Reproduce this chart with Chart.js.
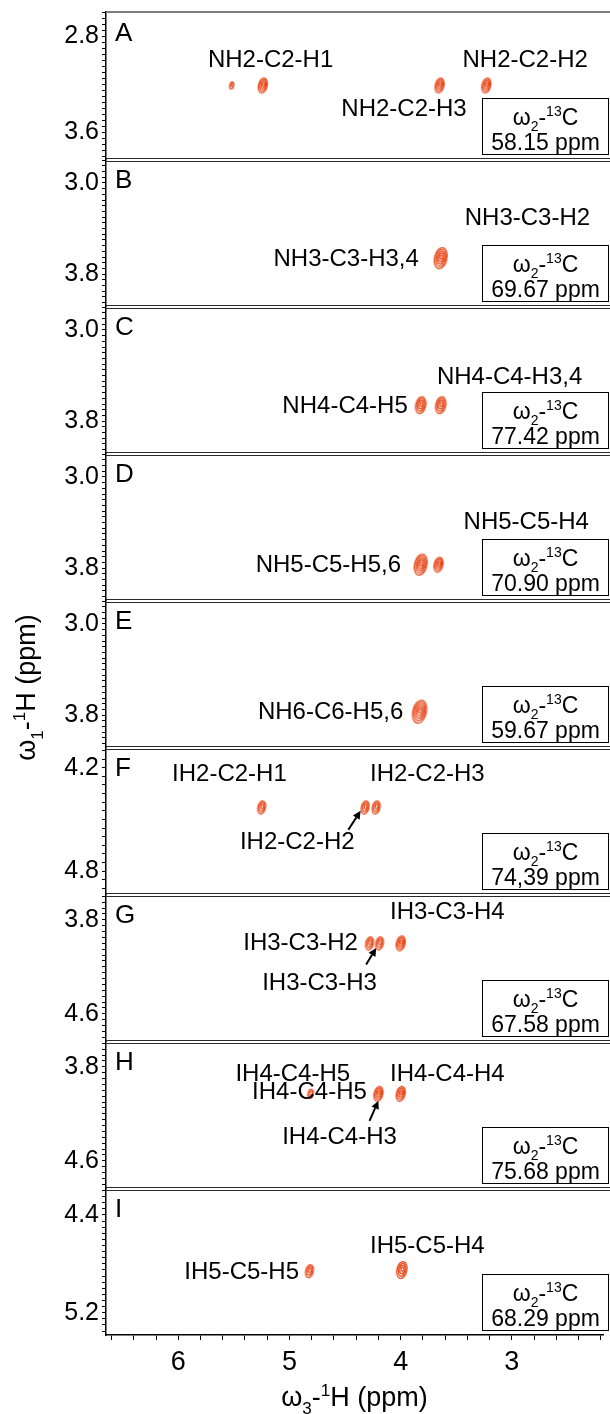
<!DOCTYPE html>
<html>
<head>
<meta charset="utf-8">
<script src="https://cdn.jsdelivr.net/npm/chart.js@4.4.1/dist/chart.umd.min.js"></script>
<style>
  html, body { margin: 0; padding: 0; background: #fff; }
  #strips { display: block; }
</style>
</head>
<body>
<canvas id="strips" width="610" height="1414"></canvas>
<script>
// strips, top to bottom
const stripNames = ['A', 'B', 'C', 'D', 'E', 'F', 'G', 'H', 'I'];
const stripCarbon = ['58.15', '69.67', '77.42', '70.90', '59.67', '74,39', '67.58', '75.68', '68.29'];
const stripMin = [2.60, 2.79, 2.79, 2.79, 2.79, 4.08, 3.58, 3.58, 4.18];
const stripMax = [3.82, 4.08, 4.08, 4.08, 4.08, 4.932, 4.832, 4.832, 5.382];
const stripTicks = [[2.8, 3.6], [3.0, 3.8], [3.0, 3.8], [3.0, 3.8], [3.0, 3.8], [4.2, 4.8], [3.8, 4.6], [3.8, 4.6], [4.4, 5.2]];

// direct dimension (omega3)
const w3Min = 2.18;
const w3Max = 6.65;
const w3Ticks = [3, 4, 5, 6];

// cross peaks: strip, omega3, omega1, number of contour levels
const peakStrip  = [0, 0, 0, 0, 1, 2, 2, 3, 3, 4, 5, 5, 5, 6, 6, 6, 7, 7, 7, 8, 8];
const peakW3     = [5.52, 5.24, 3.65, 3.23, 3.64, 3.82, 3.64, 3.82, 3.66, 3.83, 5.25, 4.32, 4.22, 4.28, 4.19, 4.00, 4.81, 4.20, 4.00, 4.82, 3.99];
const peakW1     = [3.21, 3.21, 3.21, 3.21, 3.66, 3.66, 3.66, 3.77, 3.77, 3.77, 4.43, 4.43, 4.43, 4.00, 4.00, 4.00, 4.03, 4.03, 4.03, 4.86, 4.85];
const peakLevels = [1, 5, 5, 5, 8, 6, 6, 8, 5, 9, 4, 4, 4, 4, 4, 5, 2, 5, 5, 4, 6];

// assignments
const labelStrip = [0, 0, 0, 1, 1, 2, 2, 3, 3, 4, 5, 5, 5, 6, 6, 6, 7, 7, 7, 7, 8, 8];
const labelText = [
  'NH2-C2-H1', 'NH2-C2-H3', 'NH2-C2-H2',
  'NH3-C3-H3,4', 'NH3-C3-H2',
  'NH4-C4-H3,4', 'NH4-C4-H5',
  'NH5-C5-H4', 'NH5-C5-H5,6',
  'NH6-C6-H5,6',
  'IH2-C2-H1', 'IH2-C2-H3', 'IH2-C2-H2',
  'IH3-C3-H4', 'IH3-C3-H2', 'IH3-C3-H3',
  'IH4-C4-H5', 'IH4-C4-H5', 'IH4-C4-H4', 'IH4-C4-H3',
  'IH5-C5-H5', 'IH5-C5-H4'
];
const labelW3 = [5.17, 3.97, 2.88, 4.49, 2.86, 3.02, 4.50, 2.87, 4.65, 4.63, 5.54, 3.76, 4.93, 3.58, 4.90, 4.73, 4.97, 4.82, 3.58, 4.55, 5.43, 3.76];
const labelW1 = [3.00, 3.405, 3.00, 3.67, 3.31, 3.42, 3.67, 3.40, 3.78, 3.78, 4.24, 4.24, 4.63, 3.74, 4.00, 4.345, 3.86, 4.02, 3.86, 4.40, 4.87, 4.66];

// pointers from a label to its peak: strip, [w3, w1] tail, [w3, w1] head
const arrowStrip = [5, 6, 7];
const arrowFrom = [[4.47, 4.56], [4.31, 4.18], [4.28, 4.26]];
const arrowTo = [[4.36, 4.45], [4.22, 4.04], [4.20, 4.09]];

const FONT = '"Liberation Sans", Arial, Helvetica, sans-serif';
const PEAK_COLOR = '#e8481a';
const stripIds = stripNames.map(n => 'y' + n);

Chart.defaults.font.family = FONT;
Chart.defaults.color = '#000';

// nested tilted ellipses standing in for contour levels
function contourImage(levels) {
  const rx = 1.4 + 0.6 * levels;
  const ry = 2.6 + 1.0 * levels;
  const rings = Math.max(1, Math.round(rx / 1.25));
  const size = Math.ceil(Math.max(rx, ry) * 2 + 6);
  const c = document.createElement('canvas');
  c.width = size;
  c.height = size;
  const g = c.getContext('2d');
  g.translate(size / 2, size / 2);
  g.rotate(0.22);
  g.strokeStyle = PEAK_COLOR;
  g.lineWidth = 1.25;
  for (let k = rings; k >= 1; k--) {
    const f = k / rings;
    g.beginPath();
    g.ellipse(0.5 * (1 - f), -1.2 * (1 - f), Math.max(rx * f, 0.8), Math.max(ry * f, 1.4), 0, 0, Math.PI * 2);
    g.stroke();
  }
  return c;
}

const contourImgs = {};
peakLevels.forEach(l => { if (!contourImgs[l]) contourImgs[l] = contourImage(l); });

// omega with sub- and superscript, e.g. ω2-13C
function omegaPieces(sub, sup, tail, size) {
  const small = Math.round(size * 0.62);
  return [
    { t: '\u03c9', s: size, dy: 0 },
    { t: sub, s: small, dy: size * 0.28 },
    { t: '-', s: size, dy: 0 },
    { t: sup, s: small, dy: -size * 0.36 },
    { t: tail, s: size, dy: 0 }
  ];
}

function drawPieces(ctx, pieces, cx, baseline) {
  let total = 0;
  pieces.forEach(p => {
    ctx.font = p.s + 'px ' + FONT;
    p.w = ctx.measureText(p.t).width;
    total += p.w;
  });
  let x = cx - total / 2;
  ctx.textAlign = 'left';
  ctx.textBaseline = 'alphabetic';
  pieces.forEach(p => {
    ctx.font = p.s + 'px ' + FONT;
    ctx.fillText(p.t, x, baseline + p.dy);
    x += p.w;
  });
}

const stripDecor = {
  id: 'stripDecor',
  beforeDraw(chart) {
    const ctx = chart.ctx;
    ctx.save();
    ctx.fillStyle = '#fff';
    ctx.fillRect(0, 0, chart.width, chart.height);
    ctx.restore();
  },
  afterDatasetsDraw(chart) {
    const ctx = chart.ctx;
    const area = chart.chartArea;
    const xs = chart.scales.x;
    ctx.save();

    // frame top
    ctx.strokeStyle = '#7d7d7d';
    ctx.lineWidth = 2;
    ctx.beginPath();
    ctx.moveTo(area.left, area.top);
    ctx.lineTo(chart.width, area.top);
    ctx.stroke();

    stripIds.forEach((id, i) => {
      const ys = chart.scales[id];

      // double rule between strips
      if (i > 0) {
        ctx.strokeStyle = '#2a2a2a';
        ctx.lineWidth = 1;
        [ys.top - 1.5, ys.top + 1.5].forEach(y => {
          ctx.beginPath();
          ctx.moveTo(area.left, Math.round(y) + 0.5);
          ctx.lineTo(chart.width, Math.round(y) + 0.5);
          ctx.stroke();
        });
      }

      // strip letter
      ctx.fillStyle = '#000';
      ctx.font = '26px ' + FONT;
      ctx.textAlign = 'left';
      ctx.textBaseline = 'alphabetic';
      ctx.fillText(stripNames[i], area.left + 9, ys.top + 29);

      // carbon plane box
      const bx = 482.5;
      const bw = 126;
      const by = Math.round(ys.bottom) - 60.5;
      const bh = 56;
      ctx.fillStyle = '#fff';
      ctx.fillRect(bx, by, bw, bh);
      ctx.strokeStyle = '#000';
      ctx.lineWidth = 1;
      ctx.strokeRect(bx, by, bw, bh);
      ctx.fillStyle = '#000';
      drawPieces(ctx, omegaPieces('2', '13', 'C', 23), bx + bw / 2, by + 26);
      ctx.font = '23px ' + FONT;
      ctx.textAlign = 'center';
      ctx.fillText(stripCarbon[i] + ' ppm', bx + bw / 2, by + 51);
    });

    // assignments
    ctx.fillStyle = '#000';
    ctx.font = '24px ' + FONT;
    ctx.textAlign = 'center';
    ctx.textBaseline = 'middle';
    labelText.forEach((t, k) => {
      const ys = chart.scales[stripIds[labelStrip[k]]];
      ctx.fillText(t, xs.getPixelForValue(labelW3[k]), ys.getPixelForValue(labelW1[k]));
    });

    // pointers
    ctx.strokeStyle = '#000';
    ctx.fillStyle = '#000';
    ctx.lineWidth = 2;
    arrowStrip.forEach((s, k) => {
      const ys = chart.scales[stripIds[s]];
      const x1 = xs.getPixelForValue(arrowFrom[k][0]);
      const y1 = ys.getPixelForValue(arrowFrom[k][1]);
      const x2 = xs.getPixelForValue(arrowTo[k][0]);
      const y2 = ys.getPixelForValue(arrowTo[k][1]);
      const a = Math.atan2(y2 - y1, x2 - x1);
      const hl = 8;
      const hw = 4;
      const bxp = x2 - hl * Math.cos(a);
      const byp = y2 - hl * Math.sin(a);
      ctx.beginPath();
      ctx.moveTo(x1, y1);
      ctx.lineTo(bxp, byp);
      ctx.stroke();
      ctx.beginPath();
      ctx.moveTo(x2, y2);
      ctx.lineTo(bxp + hw * Math.sin(a), byp - hw * Math.cos(a));
      ctx.lineTo(bxp - hw * Math.sin(a), byp + hw * Math.cos(a));
      ctx.closePath();
      ctx.fill();
    });

    // axis titles
    ctx.fillStyle = '#000';
    drawPieces(ctx, omegaPieces('3', '1', 'H (ppm)', 27), (area.left + area.right) / 2, 1406);
    ctx.translate(35, (area.top + area.bottom) / 2 + 14);
    ctx.rotate(-Math.PI / 2);
    drawPieces(ctx, omegaPieces('1', '1', 'H (ppm)', 27), 0, 0);
    ctx.restore();
  }
};

const scales = {
  x: {
    type: 'linear',
    position: 'bottom',
    reverse: true,
    min: w3Min,
    max: w3Max,
    afterFit: s => { s.height = 79; s.paddingLeft = 0; s.paddingRight = 0; },
    border: { display: true, color: '#000', width: 1.5 },
    grid: { drawOnChartArea: false, drawTicks: true, tickLength: 5, color: '#000' },
    ticks: {
      stepSize: 0.2,
      autoSkip: false,
      includeBounds: false,
      maxRotation: 0,
      minRotation: 0,
      padding: 6,
      font: { size: 27 },
      callback: v => (w3Ticks.some(t => Math.abs(t - v) < 1e-6) ? String(Math.round(v)) : '')
    }
  }
};

// left-hand stacked axes are laid out in reverse order of definition,
// so add the bottom strip first to get A on top
stripIds.slice().reverse().forEach(id => {
  const i = stripIds.indexOf(id);
  scales[id] = {
    type: 'linear',
    position: 'left',
    stack: 'strips',
    stackWeight: 1,
    reverse: true,
    min: stripMin[i],
    max: stripMax[i],
    afterFit: s => { s.width = 106; s.paddingTop = 0; s.paddingBottom = 0; },
    border: { display: true, color: '#000', width: 1.5 },
    grid: { drawOnChartArea: false, drawTicks: true, tickLength: 4, color: '#000' },
    ticks: {
      stepSize: 0.05,
      autoSkip: false,
      includeBounds: false,
      padding: 3,
      font: { size: 25 },
      callback: v => (stripTicks[i].some(t => Math.abs(t - v) < 1e-6) ? v.toFixed(1) : '')
    }
  };
});

const datasets = stripIds.map((id, i) => ({
  type: 'scatter',
  label: stripNames[i],
  xAxisID: 'x',
  yAxisID: id,
  data: peakW3
    .map((w3, k) => ({ x: w3, y: peakW1[k], lv: peakLevels[k], s: peakStrip[k] }))
    .filter(p => p.s === i),
  pointStyle: ctx => contourImgs[ctx.raw.lv],
  pointRadius: 6
}));

new Chart(document.getElementById('strips'), {
  type: 'scatter',
  data: { datasets },
  options: {
    responsive: false,
    animation: false,
    events: [],
    layout: { padding: { top: 12, right: 1, left: 0, bottom: 0 } },
    plugins: { legend: { display: false }, tooltip: { enabled: false } },
    scales
  },
  plugins: [stripDecor]
});
</script>
</body>
</html>
